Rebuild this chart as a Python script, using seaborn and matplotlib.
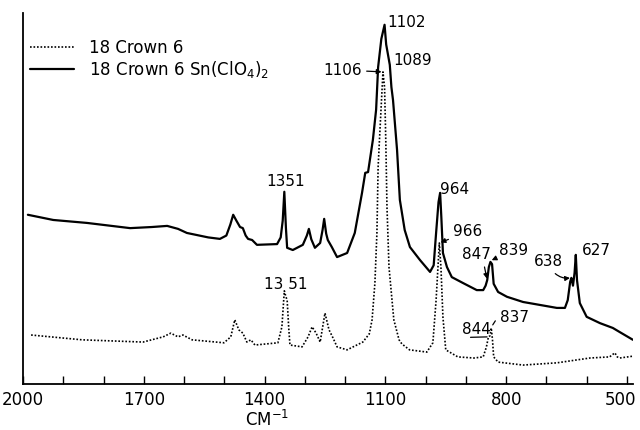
import matplotlib
matplotlib.use("Agg")
import matplotlib.pyplot as plt
import matplotlib.transforms as mtransforms
import pandas as pd
import seaborn as sns

# Infrared spectra, 2000-485 cm-1, relative absorbance (arbitrary units)
crown_wn = [1980, 1853, 1702, 1652, 1633, 1615, 1603, 1580, 1501, 1484, 1474, 1464,
            1454, 1444, 1434, 1424, 1367, 1357, 1351, 1347, 1344, 1340, 1337, 1307,
            1292, 1282, 1272, 1262, 1250, 1240, 1230, 1220, 1195, 1156, 1140, 1133,
            1126, 1121, 1118, 1113, 1106, 1102, 1099, 1096, 1091, 1079, 1066, 1059,
            1040, 997, 982, 974, 966, 962, 957, 950, 920, 880, 857, 849, 844, 840,
            837, 834, 831, 820, 758, 674, 592, 543, 530, 524, 518, 485]
crown_abs = [13.2, 11.9, 11.3, 12.7, 13.7, 12.7, 13.2, 11.9, 11.1, 12.7, 17.3, 14.6,
             13.7, 11.3, 11.9, 10.5, 11.1, 15.4, 25.1, 23.5, 22.6, 15.0, 10.5, 10.0,
             12.7, 15.4, 13.7, 11.3, 19.1, 14.6, 12.4, 10.0, 9.2, 11.3, 13.5, 17.3,
             27.2, 40.7, 58.5, 69.3, 84.1, 80.0, 65.8, 47.7, 31.5, 17.3, 11.9, 10.8,
             9.2, 8.6, 11.1, 22.6, 38.0, 31.5, 18.0, 9.2, 7.3, 7.0, 7.3, 10.0, 12.7, 13.0,
             15.1, 12.0, 7.3, 5.9, 5.1, 5.7, 7.0, 7.3, 8.4, 7.3, 7.0, 7.5]

complex_wn = [1988, 1925, 1841, 1734, 1680, 1642, 1615, 1593, 1540, 1511, 1495, 1485,
              1478, 1470, 1461, 1454, 1447, 1441, 1431, 1419, 1369, 1360, 1355, 1351,
              1347, 1344, 1330, 1305, 1295, 1290, 1284, 1275, 1262, 1256, 1252, 1247,
              1243, 1233, 1220, 1195, 1176, 1158, 1150, 1143, 1131, 1123, 1118, 1110,
              1102, 1098, 1089, 1085, 1081, 1071, 1064, 1052, 1039, 1014, 989, 980, 974,
              968, 964, 961, 957, 947, 935, 907, 873, 857, 851, 847, 843, 839, 835, 831,
              820, 798, 758, 716, 674, 654, 647, 641, 638, 634, 630, 627, 624, 617, 600,
              567, 535, 518, 485]
complex_abs = [45.6, 44.2, 43.4, 42.0, 42.3, 42.6, 41.8, 40.7, 39.5, 39.1, 40.0, 43.0,
               45.6, 44.0, 42.3, 42.0, 40.0, 39.1, 38.8, 37.5, 37.7, 39.5, 44.0, 51.8,
               42.0, 36.7, 36.1, 37.5, 40.0, 41.8, 39.0, 36.7, 38.0, 41.5, 44.5, 40.5,
               38.8, 36.9, 34.2, 35.3, 40.7, 51.5, 56.9, 57.1, 65.8, 73.9, 85.4, 93.0,
               96.8, 91.5, 86.0, 80.0, 76.5, 63.1, 49.6, 41.5, 36.9, 33.4, 30.2, 32.0, 40.7,
               49.0, 51.5, 45.0, 35.3, 31.5, 28.8, 27.2, 25.3, 25.3, 26.5, 28.0, 31.5, 32.9,
               32.3, 27.0, 24.8, 23.5, 22.1, 21.3, 20.5, 20.5, 22.6, 27.5, 28.6, 26.5, 30.0,
               34.8, 28.0, 21.8, 18.1, 16.4, 15.1, 14.0, 11.9]

series_labels = ["18 Crown 6", "18 Crown 6 Sn(ClO$_4$)$_2$"]
major_ticks = [2000, 1700, 1400, 1100, 800, 500]
minor_ticks = list(range(2000, 499, -100))

sns.set_style("ticks")
plt.rcParams["font.family"] = ["DejaVu Sans"]
plt.rcParams["text.color"] = "black"
plt.rcParams["axes.labelcolor"] = "black"
plt.rcParams["xtick.color"] = "black"

fig = plt.figure(figsize=(6.4, 4.3), dpi=100)
ax = fig.add_axes([0.036, 0.107, 0.953, 0.863])

crown = pd.DataFrame({"wn": crown_wn, "absorbance": crown_abs})
cplx = pd.DataFrame({"wn": complex_wn, "absorbance": complex_abs})

sns.lineplot(data=crown, x="wn", y="absorbance", ax=ax, color="black",
             linewidth=1.2, linestyle=(0, (1, 1.1)), label=series_labels[0],
             estimator=None, sort=False)
sns.lineplot(data=cplx, x="wn", y="absorbance", ax=ax, color="black",
             linewidth=1.6, label=series_labels[1], estimator=None, sort=False)

ax.set_xlim(2000, 485)
ax.set_ylim(0, 100)
ax.set_xticks(major_ticks)
ax.set_xticks(minor_ticks, minor=True)
ax.set_xticklabels([str(t) for t in major_ticks])
ax.set_yticks([])
ax.tick_params(axis="x", which="both", direction="in", length=6, width=1.0,
               labelsize=12, pad=5, colors="black")
for side in ("top", "right"):
    ax.spines[side].set_visible(False)
for side in ("left", "bottom"):
    ax.spines[side].set_linewidth(1.3)
    ax.spines[side].set_color("black")

# nudge the last tick label so it stays inside the figure
last = ax.get_xticklabels()[-1]
last.set_transform(last.get_transform() +
                   mtransforms.ScaledTranslation(-6 / 100, 0, fig.dpi_scale_trans))

ax.set_ylabel("")
ax.set_xlabel("CM$^{-1}$", fontsize=12)
ax.xaxis.set_label_coords(0.40, -0.07)

leg = ax.legend(loc="upper left", bbox_to_anchor=(0.012, 0.93), frameon=False,
                fontsize=12, handlelength=2.6, handletextpad=0.9,
                labelspacing=0.12, borderpad=0, borderaxespad=0)

# Peak labels
fs = 11
arrow = dict(arrowstyle="-|>", color="black", lw=0.9, mutation_scale=7,
             shrinkA=1, shrinkB=1)
ax.text(1096, 97.3, "1102", fontsize=fs, ha="left", va="center")
ax.text(1081, 87.3, "1089", fontsize=fs, ha="left", va="center")
ax.annotate("1106", xy=(1106, 84.1), xytext=(1158, 84.6), fontsize=fs,
            ha="right", va="center", arrowprops=arrow)
ax.text(1347, 54.5, "1351", fontsize=fs, ha="center", va="center")
ax.text(1347, 26.8, "13 51", fontsize=fs, ha="center", va="center")
ax.text(964, 52.5, "964", fontsize=fs, ha="left", va="center")
ax.annotate("966", xy=(966, 38.0), xytext=(932, 41.0), fontsize=fs,
            ha="left", va="center", arrowprops=arrow)
ax.annotate("847", xy=(847, 28.0), xytext=(910, 34.8), fontsize=fs,
            ha="left", va="center",
            arrowprops=dict(arrow, relpos=(0.75, 0.0)))
ax.annotate("839", xy=(839, 33.2), xytext=(818, 36.1), fontsize=fs,
            ha="left", va="center", arrowprops=arrow)
ax.annotate("638", xy=(638, 28.6), xytext=(731, 32.9), fontsize=fs,
            ha="left", va="center",
            arrowprops=dict(arrow, relpos=(0.6, 0.0),
                            connectionstyle="arc3,rad=0.3"))
ax.text(612, 36.1, "627", fontsize=fs, ha="left", va="center")
ax.annotate("844", xy=(844, 12.7), xytext=(910, 14.6), fontsize=fs,
            ha="left", va="center",
            arrowprops=dict(arrowstyle="-", color="black", lw=0.9,
                            relpos=(0.3, 0.0), shrinkA=0, shrinkB=1))
ax.annotate("837", xy=(837, 15.3), xytext=(815, 17.8), fontsize=fs,
            ha="left", va="center",
            arrowprops=dict(arrowstyle="-", color="black", lw=0.9,
                            relpos=(-0.1, 0.5), shrinkA=2, shrinkB=2))

fig.savefig("out.png", dpi=100)
